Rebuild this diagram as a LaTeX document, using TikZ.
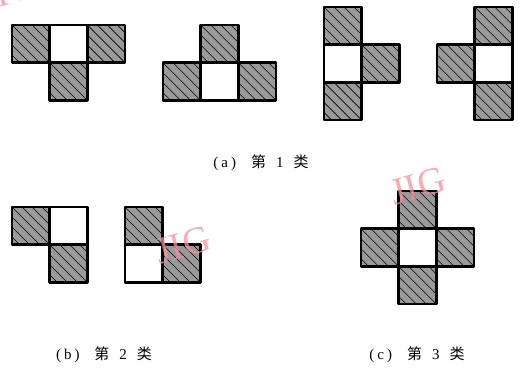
\documentclass[tikz,border=0pt]{standalone}
\usepackage{fontspec}
\setmainfont{Liberation Serif}
\newfontfamily\cjk{Noto Sans CJK SC}
\definecolor{CellGray}{HTML}{9A9A9A}
\definecolor{MarkRed}{HTML}{F58F9A}
\newcommand{\capline}[2]{(\hspace{3pt}#1\hspace{3pt})\hspace{15pt}{\cjk 第}\hspace{10pt}#2\hspace{10pt}{\cjk 类}}
\begin{document}
\begin{tikzpicture}[x=1pt,y=-1pt,
  font=\fontsize{15}{17}\selectfont,
  cell/.style={draw=black,line width=2.6pt,line join=round,
    minimum size=37.7pt,inner sep=0pt},
  hcell/.style={cell,fill=CellGray,path picture={
      \foreach \k in {-40,-30,...,40}
        \draw[black,line width=0.6pt]
          ([xshift=\k pt]path picture bounding box.north west) -- ++(45,45);}},
  wcell/.style={cell,fill=white},
  wmark/.style={text=MarkRed,text opacity=0.75,
    font=\fontsize{38}{38}\selectfont,rotate=15}]
  \path[use as bounding box] (0,0) rectangle (522,374);
  % (a) class 1
  \foreach \i/\j/\kind [count=\n] in {0/0/hcell,1/0/wcell,2/0/hcell,1/1/hcell}
    \node[\kind] (a1-\n) at ({12+(\i+0.5)*37.7},{25+(\j+0.5)*37.7}) {};
  \foreach \i/\j/\kind [count=\n] in {1/0/hcell,0/1/hcell,1/1/wcell,2/1/hcell}
    \node[\kind] (a2-\n) at ({163+(\i+0.5)*37.7},{25+(\j+0.5)*37.7}) {};
  \foreach \i/\j/\kind [count=\n] in {0/0/hcell,0/1/wcell,1/1/hcell,0/2/hcell}
    \node[\kind] (a3-\n) at ({324+(\i+0.5)*37.7},{7+(\j+0.5)*37.7}) {};
  \foreach \i/\j/\kind [count=\n] in {1/0/hcell,0/1/hcell,1/1/wcell,1/2/hcell}
    \node[\kind] (a4-\n) at ({437+(\i+0.5)*37.7},{7+(\j+0.5)*37.7}) {};
  \node (capa) at (261,163) {\capline{a}{1}};
  % (b) class 2
  \foreach \i/\j/\kind [count=\n] in {0/0/hcell,1/0/wcell,1/1/hcell}
    \node[\kind] (b1-\n) at ({12+(\i+0.5)*37.7},{207+(\j+0.5)*37.7}) {};
  \foreach \i/\j/\kind [count=\n] in {0/0/hcell,0/1/wcell,1/1/hcell}
    \node[\kind] (b2-\n) at ({125+(\i+0.5)*37.7},{207+(\j+0.5)*37.7}) {};
  \node (capb) at (104,355) {\capline{b}{2}};
  % (c) class 3
  \foreach \i/\j/\kind [count=\n] in {1/0/hcell,0/1/hcell,1/1/wcell,2/1/hcell,1/2/hcell}
    \node[\kind] (c-\n) at ({361+(\i+0.5)*37.7},{191+(\j+0.5)*37.7}) {};
  \node (capc) at (417,355) {\capline{c}{3}};
  % watermarks
  \node[wmark] (wm0) at (8,-8) {JIG};
  \node[wmark] (wm1) at (183,245) {JIG};
  \node[wmark] (wm2) at (418,186) {JIG};
\end{tikzpicture}
\end{document}
